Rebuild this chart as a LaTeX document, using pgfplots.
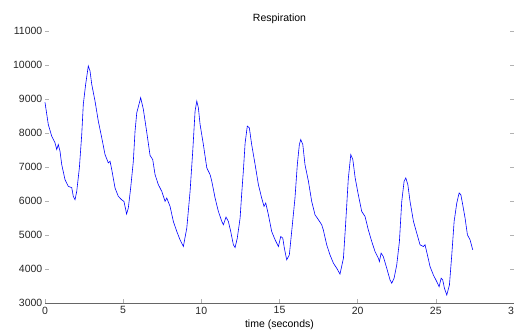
\documentclass[border=0pt]{standalone}
\usepackage{fontspec}
\setmainfont{Liberation Sans}
\usepackage{pgfplots}
\pgfplotsset{compat=1.18}
\usetikzlibrary{calc}
\begin{document}
\fontsize{10.5}{12}\selectfont
\begin{tikzpicture}
\begin{axis}[
  scale only axis,
  width=469pt, height=272pt,
  xmin=0, xmax=30, ymin=3000, ymax=11000,
  xtick={0,5,10,15,20,25,30},
  ytick={3000,4000,5000,6000,7000,8000,9000,10000,11000},
  scaled y ticks=false,
  /pgf/number format/assume math mode=true,
  /pgf/number format/1000 sep={},
  axis line style={draw=none},
  tick style={gray!60, line width=0.5pt},
  major tick length=4pt,
  tick align=inside,
  ytick pos=both, xtick pos=bottom,
  ticklabel style={font=\fontsize{10.5}{12}\selectfont, text=black!85},
  xticklabel style={yshift=0pt},
  yticklabel style={xshift=1pt},
  title={Respiration},
  title style={font=\fontsize{10.5}{12}\selectfont, yshift=-2pt},
  xlabel={time (seconds)},
  xlabel style={font=\fontsize{10.5}{12}\selectfont, yshift=1pt},
  clip=false,
]
\draw[gray!80!black, line width=0.8pt] (rel axis cs:0,0) -- (rel axis cs:1,0);
\addplot[blue, line width=0.6pt] coordinates {
(0,8900) (0.21,8251) (0.43,7906) (0.64,7711) (0.75,7513) (0.85,7661) (0.96,7463)
(1.07,7071) (1.28,6628) (1.49,6431) (1.71,6392) (1.81,6136) (1.92,6038) (2.03,6283)
(2.2,6983) (2.35,7956) (2.45,8841) (2.6,9431) (2.77,9971) (2.88,9823) (2.99,9431)
(3.2,8938) (3.41,8349) (3.63,7859) (3.84,7366) (4.05,7121) (4.16,7170) (4.27,6924)
(4.48,6383) (4.69,6136) (4.9,6038) (5.05,5988) (5.14,5794) (5.22,5617) (5.33,5794)
(5.48,6383) (5.65,7170) (5.76,8053) (5.87,8596) (6.01,8841) (6.12,9038) (6.29,8700)
(6.5,8050) (6.72,7340) (6.89,7219) (7.04,6776) (7.25,6481) (7.47,6283) (7.68,5988)
(7.79,6087) (8.0,5841) (8.21,5398) (8.43,5103) (8.64,4858) (8.85,4661) (9.07,5204)
(9.28,6283) (9.45,7463) (9.6,8644) (9.71,8938) (9.81,8743) (9.92,8251) (10.13,7661)
(10.35,6973) (10.56,6776) (10.67,6579) (10.88,6087) (11.09,5693) (11.31,5398)
(11.41,5301) (11.58,5528) (11.73,5398) (11.88,5103) (12.05,4711) (12.16,4631)
(12.3,4909) (12.48,5499) (12.58,6200) (12.69,6900) (12.8,7700) (12.94,8202)
(13.07,8153) (13.22,7661) (13.44,7071) (13.65,6481) (13.86,6087) (14.01,5841)
(14.12,5941) (14.29,5596) (14.5,5103) (14.72,4858) (14.93,4661) (15.08,4956)
(15.21,4907) (15.31,4614) (15.46,4269) (15.63,4416) (15.78,5103) (15.99,6087)
(16.14,7071) (16.27,7661) (16.36,7808) (16.49,7661) (16.63,7071) (16.85,6579)
(17.06,5988) (17.27,5596) (17.49,5449) (17.7,5301) (17.8,5154) (18.02,4711)
(18.23,4416) (18.45,4170) (18.66,4023) (18.87,3850) (19.09,4319) (19.22,5250)
(19.4,6650) (19.56,7366) (19.69,7219) (19.84,6678) (20.04,6186) (20.26,5693)
(20.47,5546) (20.68,5154) (20.9,4809) (21.11,4513) (21.32,4319) (21.39,4220)
(21.5,4466) (21.64,4366) (21.86,4023) (22.07,3679) (22.18,3581) (22.33,3729)
(22.5,4121) (22.67,4809) (22.82,5988) (22.97,6579) (23.08,6678) (23.21,6481)
(23.35,5988) (23.57,5398) (23.78,5054) (23.99,4711) (24.2,4661) (24.31,4711)
(24.46,4416) (24.63,4071) (24.84,3826) (25.06,3628) (25.21,3481) (25.34,3729)
(25.44,3679) (25.55,3434) (25.7,3236) (25.87,3531) (26.02,4416) (26.17,5398)
(26.34,5941) (26.49,6236) (26.6,6186) (26.72,5891) (26.87,5499) (27.02,5006)
(27.19,4858) (27.36,4563)
};
\end{axis}
\pgfresetboundingbox
\useasboundingbox ($(current axis.south west)+(-45pt,-28pt)$) rectangle ($(current axis.north east)+(0pt,31pt)$);
\end{tikzpicture}
\end{document}
